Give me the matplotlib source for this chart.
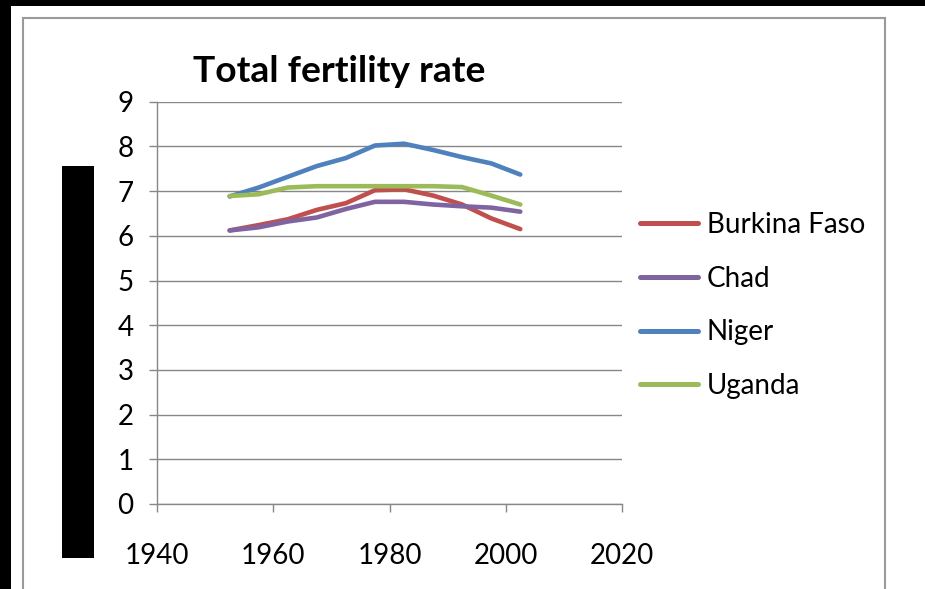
import matplotlib
matplotlib.use("Agg")
import matplotlib.pyplot as plt
from matplotlib.patches import Rectangle

plt.rcParams['font.family'] = ['Lato', 'DejaVu Sans']

years = [1952.5, 1957.5, 1962.5, 1967.5, 1972.5, 1977.5, 1982.5, 1987.5, 1992.5, 1997.5, 2002.5]
burkina = [6.12, 6.24, 6.37, 6.58, 6.73, 7.02, 7.04, 6.90, 6.70, 6.39, 6.15]
chad = [6.12, 6.19, 6.32, 6.41, 6.60, 6.76, 6.76, 6.70, 6.66, 6.63, 6.54]
niger = [6.88, 7.08, 7.32, 7.56, 7.74, 8.02, 8.06, 7.92, 7.76, 7.62, 7.37]
uganda = [6.89, 6.93, 7.08, 7.11, 7.11, 7.11, 7.11, 7.11, 7.09, 6.90, 6.70]
series_names = ["Burkina Faso", "Chad", "Niger", "Uganda"]
colors = ["#C0504D", "#8064A2", "#4F81BD", "#9BBB59"]
x_ticks = [1940, 1960, 1980, 2000, 2020]
y_ticks = list(range(0, 10))
title = "Total fertility rate"

W, H = 925, 589
fig = plt.figure(figsize=(W / 100, H / 100), dpi=100)
fig.patch.set_facecolor("white")

def fr(x0, y0, x1, y1, **kw):
    # rectangle in pixel coords (top-left origin)
    r = Rectangle((x0 / W, 1 - y1 / H), (x1 - x0) / W, (y1 - y0) / H,
                  transform=fig.transFigure, figure=fig, **kw)
    fig.patches.append(r)

# black strips (top & left)
fr(0, 0, W, 6, facecolor="black", edgecolor="none")
fr(0, 0, 11, H, facecolor="black", edgecolor="none")
# gray chart border
fr(23, 17.5, 885, H + 5, facecolor="none", edgecolor="#9a9a9a", linewidth=1.5)
# black block on left
fr(62, 166, 94, 558, facecolor="black", edgecolor="none", zorder=5)

ax_l, ax_r, ax_t, ax_b = 157, 622, 101.7, 504
ax = fig.add_axes([ax_l / W, 1 - ax_b / H, (ax_r - ax_l) / W, (ax_b - ax_t) / H])
ax.set_facecolor("none")

data = [burkina, chad, niger, uganda]
for name, vals, c in zip(series_names, data, colors):
    ax.plot(years, vals, color=c, linewidth=3.3, solid_capstyle="round",
            solid_joinstyle="round", label=name)

ax.set_xlim(1940, 2020)
ax.set_ylim(0, 9)
ax.set_xticks(x_ticks)
ax.set_yticks(y_ticks)
grid_c = "#878787"
ax.yaxis.grid(True, color=grid_c, linewidth=1.0)
ax.set_axisbelow(True)
for s in ["top", "right"]:
    ax.spines[s].set_visible(False)
for s in ["left", "bottom"]:
    ax.spines[s].set_color(grid_c)
    ax.spines[s].set_linewidth(1.0)
ax.tick_params(axis="both", colors=grid_c, labelcolor="black", labelsize=20,
               length=6, width=1.0, direction="out")
ax.tick_params(axis="y", pad=11)
ax.tick_params(axis="x", pad=22)

fig.text(339 / W, 1 - 71 / H, title, ha="center", va="center",
         fontsize=26.8, fontweight="bold", color="black")

leg = ax.legend(loc="center left", bbox_to_anchor=(640 / W, 1 - 305.5 / H),
                bbox_transform=fig.transFigure, frameon=False, fontsize=20,
                handlelength=2.1, handletextpad=0.3, labelspacing=1.0,
                borderaxespad=0, borderpad=0)
for line in leg.get_lines():
    line.set_linewidth(3.6)
    line.set_solid_capstyle("round")

fig.savefig("out.png", dpi=100, facecolor=fig.get_facecolor())
